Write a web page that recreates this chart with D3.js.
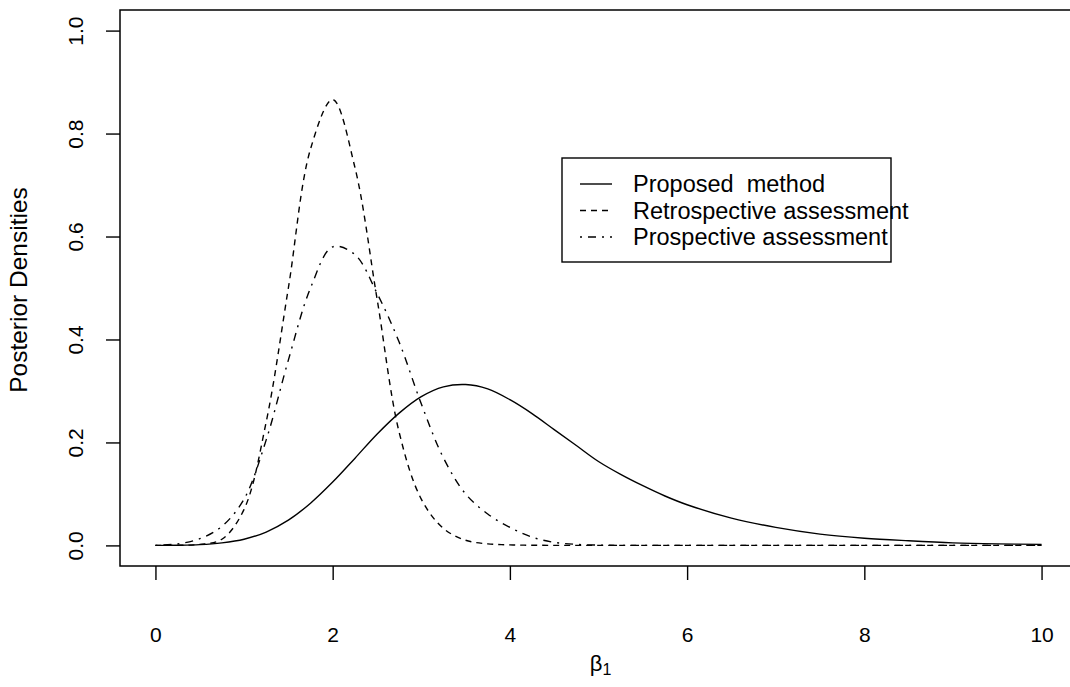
<!DOCTYPE html>
<html>
<head>
<meta charset="utf-8">
<script src="https://cdn.jsdelivr.net/npm/d3@7"></script>
<style>
  body { margin: 0; background: #fff; }
  svg { display: block; }
  text { font-family: "Liberation Sans", Arial, Helvetica, sans-serif; fill: #000; }
</style>
</head>
<body>
<div id="chart"></div>
<script>
// beta_1 grid the densities were read at
const betaGrid = [0, 0.25, 0.5, 0.75, 1, 1.25, 1.5, 1.75, 2, 2.25, 2.5, 2.75, 3, 3.25, 3.5, 3.75,
  4, 4.25, 4.5, 4.75, 5, 5.25, 5.5, 5.75, 6, 6.5, 7, 7.5, 8, 8.5, 9, 9.5, 10];

const proposed = [0, 0.0003, 0.0015, 0.005, 0.012, 0.026, 0.049, 0.082, 0.123, 0.169, 0.216, 0.257,
  0.289, 0.308, 0.3125, 0.304, 0.283, 0.256, 0.225, 0.194, 0.163, 0.138, 0.116, 0.096, 0.079,
  0.053, 0.035, 0.022, 0.014, 0.009, 0.005, 0.003, 0.002];

const retrospective = [0, 0.0002, 0.002, 0.012, 0.07, 0.24, 0.50, 0.77, 0.866, 0.735, 0.48, 0.22,
  0.09, 0.033, 0.010, 0.003, 0.001, 0.0003, 0.0001, 0, 0, 0, 0, 0, 0, 0, 0, 0, 0, 0, 0, 0, 0];

const prospective = [0, 0.003, 0.013, 0.037, 0.09, 0.205, 0.36, 0.50, 0.58, 0.565, 0.49, 0.395,
  0.275, 0.17, 0.10, 0.061, 0.035, 0.016, 0.006, 0.002, 0.0005, 0, 0, 0, 0, 0, 0, 0, 0, 0, 0, 0, 0];

const xTicks = [0, 2, 4, 6, 8, 10];
const yTicks = [0, 0.2, 0.4, 0.6, 0.8, 1.0];

const seriesNames = ['Proposed  method', 'Retrospective assessment', 'Prospective assessment'];
const dashes = [null, '6,5', '2,6,8,6'];

const width = 1070;
const height = 687;
const plot = { left: 120, top: 10, right: 1077, bottom: 566 };

const svg = d3.select('#chart').append('svg')
  .attr('width', width)
  .attr('height', height);

// R-style 4% padding around data range
const x = d3.scaleLinear().domain([-0.4, 10.4]).range([plot.left, plot.right]);
const y = d3.scaleLinear().domain([-0.04, 1.04]).range([plot.bottom, plot.top]);

const series = [proposed, retrospective, prospective].map((vals, i) => ({
  name: seriesNames[i],
  dash: dashes[i],
  points: betaGrid.map((b, j) => [b, vals[j]]),
}));

const line = d3.line()
  .x(d => x(d[0]))
  .y(d => y(d[1]))
  .curve(d3.curveCatmullRom.alpha(0.5));

svg.append('g')
  .selectAll('path')
  .data(series)
  .join('path')
    .attr('d', d => line(d.points))
    .attr('fill', 'none')
    .attr('stroke', '#000')
    .attr('stroke-width', 1.4)
    .attr('stroke-dasharray', d => d.dash);

// box
svg.append('rect')
  .attr('x', plot.left)
  .attr('y', plot.top)
  .attr('width', plot.right - plot.left)
  .attr('height', plot.bottom - plot.top)
  .attr('fill', 'none')
  .attr('stroke', '#000')
  .attr('stroke-width', 1.5);

// axes
const xAxis = svg.append('g')
  .attr('transform', `translate(0,${plot.bottom})`)
  .call(d3.axisBottom(x).tickValues(xTicks).tickSize(14).tickPadding(0).tickFormat(d3.format('d')));

const yAxis = svg.append('g')
  .attr('transform', `translate(${plot.left},0)`)
  .call(d3.axisLeft(y).tickValues(yTicks).tickSize(14).tickFormat(d3.format('.1f')));

[xAxis, yAxis].forEach(g => {
  g.select('.domain').remove();
  g.selectAll('.tick line').attr('stroke', '#000').attr('stroke-width', 1.4);
  g.selectAll('.tick text').attr('font-size', 21).attr('fill', '#000')
    .style('font-family', '"Liberation Sans", Arial, sans-serif');
});

xAxis.selectAll('.tick text')
  .attr('y', 76)
  .attr('dy', 0);

yAxis.selectAll('.tick text')
  .attr('x', 0)
  .attr('dy', 0)
  .attr('text-anchor', 'middle')
  .attr('transform', 'translate(-37,0) rotate(-90)')
  .attr('y', 0);

// axis titles
svg.append('text')
  .attr('transform', `translate(27,${(y(0) + y(1)) / 2 + 2}) rotate(-90)`)
  .attr('text-anchor', 'middle')
  .attr('font-size', 24.5)
  .text('Posterior Densities');

const xt = svg.append('text')
  .attr('x', x(5) + 2)
  .attr('y', 671)
  .attr('text-anchor', 'middle')
  .attr('font-size', 22);
xt.append('tspan').text('β');
xt.append('tspan').attr('font-size', 16).attr('dy', 4).text('1');

// legend
const legend = svg.append('g').attr('transform', 'translate(562,158)');
legend.append('rect')
  .attr('width', 329)
  .attr('height', 104)
  .attr('fill', '#fff')
  .attr('stroke', '#000')
  .attr('stroke-width', 1.4);

const rows = legend.selectAll('g.row')
  .data(series)
  .join('g')
    .attr('class', 'row')
    .attr('transform', (d, i) => `translate(0,${26 + i * 26.5})`);

rows.append('line')
  .attr('x1', 18).attr('x2', 50)
  .attr('stroke', '#000')
  .attr('stroke-width', 1.4)
  .attr('stroke-dasharray', d => d.dash);

rows.append('text')
  .attr('x', 71)
  .attr('y', 8)
  .attr('font-size', 23.5)
  .style('white-space', 'pre')
  .text(d => d.name);
</script>
</body>
</html>
